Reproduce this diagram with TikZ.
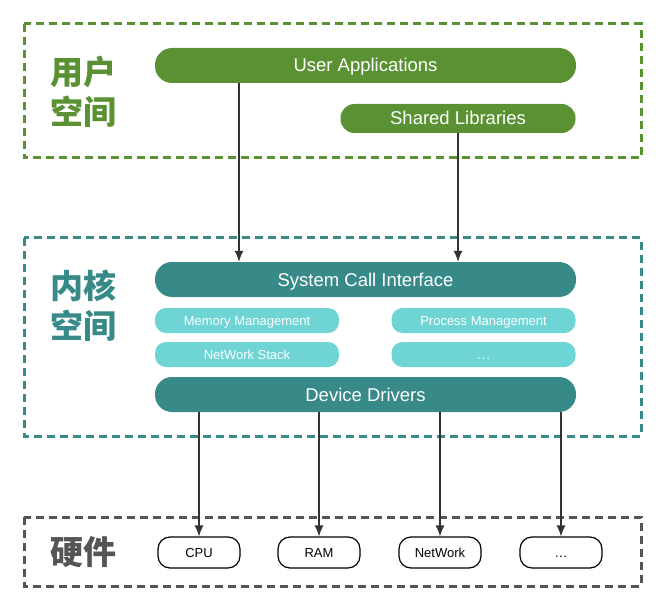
\documentclass[tikz,border=0pt]{standalone}
\usepackage{fontspec}
\setmainfont{Liberation Sans}
\newfontfamily\cjk{Noto Sans CJK SC}
\usetikzlibrary{arrows.meta}

\definecolor{usergreen}{RGB}{90,145,50}
\definecolor{kernteal}{RGB}{55,138,136}
\definecolor{modteal}{RGB}{111,212,212}
\definecolor{hwgray}{RGB}{85,85,85}
\definecolor{linegray}{RGB}{50,50,50}

\tikzset{
  layer/.style={line width=3pt, dash pattern=on 8pt off 5pt},
  bar/.style={minimum height=35pt, rounded corners=17pt, text=white, inner sep=0pt,
    text height=13pt, text depth=0pt, font=\fontsize{18.5}{20}\selectfont},
  modbox/.style={fill=modteal, minimum width=184pt, minimum height=25pt, rounded corners=11pt,
    text=white, inner sep=0pt, text height=9.3pt, text depth=0pt, font=\fontsize{13}{14}\selectfont},
  hwbox/.style={draw=black, line width=1.2pt, fill=white, minimum width=82pt, minimum height=31pt,
    rounded corners=12pt, inner sep=0pt, text height=9.4pt, text depth=0pt,
    font=\fontsize{13}{15}\selectfont},
  title/.style={font=\cjk\bfseries\fontsize{33}{40}\selectfont, align=left, anchor=west, inner sep=0pt},
  call/.style={draw=linegray, line width=1.2pt, -{Latex[length=11pt,width=9pt]}}
}

\begin{document}
\begin{tikzpicture}[x=1pt, y=-1pt]
  \useasboundingbox (0,0) rectangle (666,612);

  % user space
  \draw[layer, draw=usergreen] (24,24) rectangle (641,158);
  \node[title, text=usergreen] (userlbl) at (50,92) {用户\\空间};
  \node[bar, fill=usergreen, minimum width=421pt] (apps) at (365.5,65.5) {User Applications};
  \node[bar, fill=usergreen, minimum width=235pt, minimum height=29pt, rounded corners=14pt]
    (libs) at (458,118.5) {Shared Libraries};

  % kernel space
  \draw[layer, draw=kernteal] (24,238) rectangle (641,436);
  \node[title, text=kernteal] (kernlbl) at (50,306) {内核\\空间};
  \node[bar, fill=kernteal, minimum width=421pt] (sci) at (365.5,279.5) {System Call Interface};
  \node[modbox] (mem) at (247,320.5) {Memory Management};
  \node[modbox] (proc) at (483.5,320.5) {Process Management};
  \node[modbox] (net) at (247,354.5) {NetWork Stack};
  \node[modbox] (more) at (483.5,354.5) {.\kern1pt.\kern1pt.};
  \node[bar, fill=kernteal, minimum width=421pt] (drv) at (365.5,394.5) {Device Drivers};

  % hardware
  \draw[layer, draw=hwgray] (24,517) rectangle (641,586);
  \node[title, text=hwgray] (hwlbl) at (50,552) {硬件};
  \foreach \name/\x/\txt in {cpu/199/CPU, ram/319/RAM, nic/440/NetWork}
    \node[hwbox] (\name) at (\x,552.5) {\txt};
  \node[hwbox] (dev) at (561,552.5) {.\kern.5pt.\kern.5pt.};

  % calls
  \coordinate (appsout) at ([xshift=-126.5pt]apps.south);
  \draw[call] (appsout) -- (appsout |- sci.north);
  \draw[call] (libs.south) -- (libs.south |- sci.north);
  \foreach \name in {cpu,ram,nic,dev}
    \draw[call] (\name |- drv.south) -- (\name.north);
\end{tikzpicture}
\end{document}
